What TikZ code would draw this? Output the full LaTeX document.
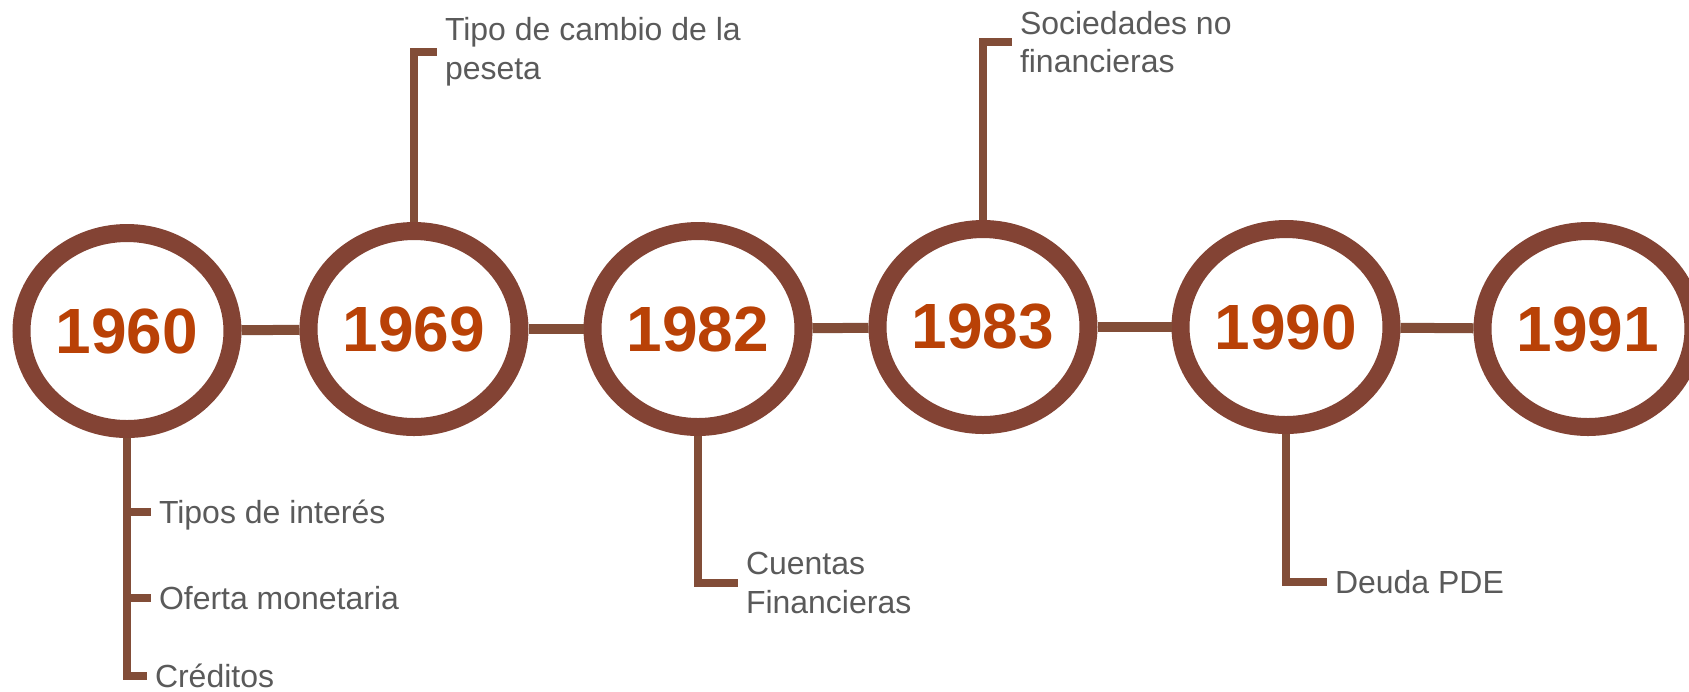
\documentclass[tikz,border=0pt]{standalone}
\usepackage{fontspec}
\setmainfont{Liberation Sans}
\usetikzlibrary{shapes.geometric}

\definecolor{ringbrown}{RGB}{131,67,52}
\definecolor{linkbrown}{RGB}{130,77,56}
\definecolor{yearred}{RGB}{185,65,6}
\definecolor{labelgray}{RGB}{90,90,90}

\begin{document}
\begin{tikzpicture}[x=0.1mm, y=-0.1mm,
    year/.style={ellipse, draw=ringbrown, line width=1.8mm, fill=white,
      minimum width=21.1mm, minimum height=19.6mm, inner sep=0pt,
      text=yearred, font=\fontsize{18.2pt}{20pt}\selectfont\bfseries},
    link/.style={draw=linkbrown, line width=1mm},
    stem/.style={draw=linkbrown, line width=0.85mm},
    lbl/.style={anchor=west, inner xsep=0.8mm, inner ysep=0pt, outer sep=0pt,
      text=labelgray, align=left, font=\fontsize{9.1pt}{11pt}\selectfont},
    oneline/.style={text height=2.3mm, text depth=0pt}]

\useasboundingbox (0,0) rectangle (1689,691);

%% years
\node[year] (y1960) at (127,331)  {1960};
\node[year] (y1969) at (414,329)  {1969};
\node[year] (y1982) at (698,329)  {1982};
\node[year] (y1983) at (983,327)  {1983};
\node[year] (y1990) at (1286,327) {1990};
\node[year] (y1991) at (1588,329) {1991};

%% time line
\draw[link] (y1960) -- (y1969);
\draw[link] (y1969) -- (y1982);
\draw[link] (y1982) -- (y1983);
\draw[link] (y1983) -- (y1990);
\draw[link] (y1990) -- (y1991);

%% labels
\node[lbl,oneline] (tipos)    at (151,512)  {Tipos de interés};
\node[lbl,oneline] (oferta)   at (151,598)  {Oferta monetaria};
\node[lbl,oneline] (creditos) at (147,676)  {Créditos};
\node[lbl]         (cambio)   at (437,52)   {Tipo de cambio de la\\peseta};
\node[lbl]         (cuentas)  at (738,583)  {Cuentas\\Financieras};
\node[lbl]         (socied)   at (1012,42)  {Sociedades no\\financieras};
\node[lbl,oneline] (deuda)    at (1327,582) {Deuda PDE};

%% stems
\draw[stem] (y1960.south) |- (creditos.west);          %% 1960
\draw[stem] (y1960.south |- tipos.west) -- (tipos.west);
\draw[stem] (y1960.south |- oferta.west) -- (oferta.west);
\draw[stem] (y1969.north) |- (cambio.west);            %% 1969
\draw[stem] (y1982.south) |- (cuentas.west);           %% 1982
\draw[stem] (y1983.north) |- (socied.west);            %% 1983
\draw[stem] (y1990.south) |- (deuda.west);             %% 1990
\end{tikzpicture}
\end{document}
